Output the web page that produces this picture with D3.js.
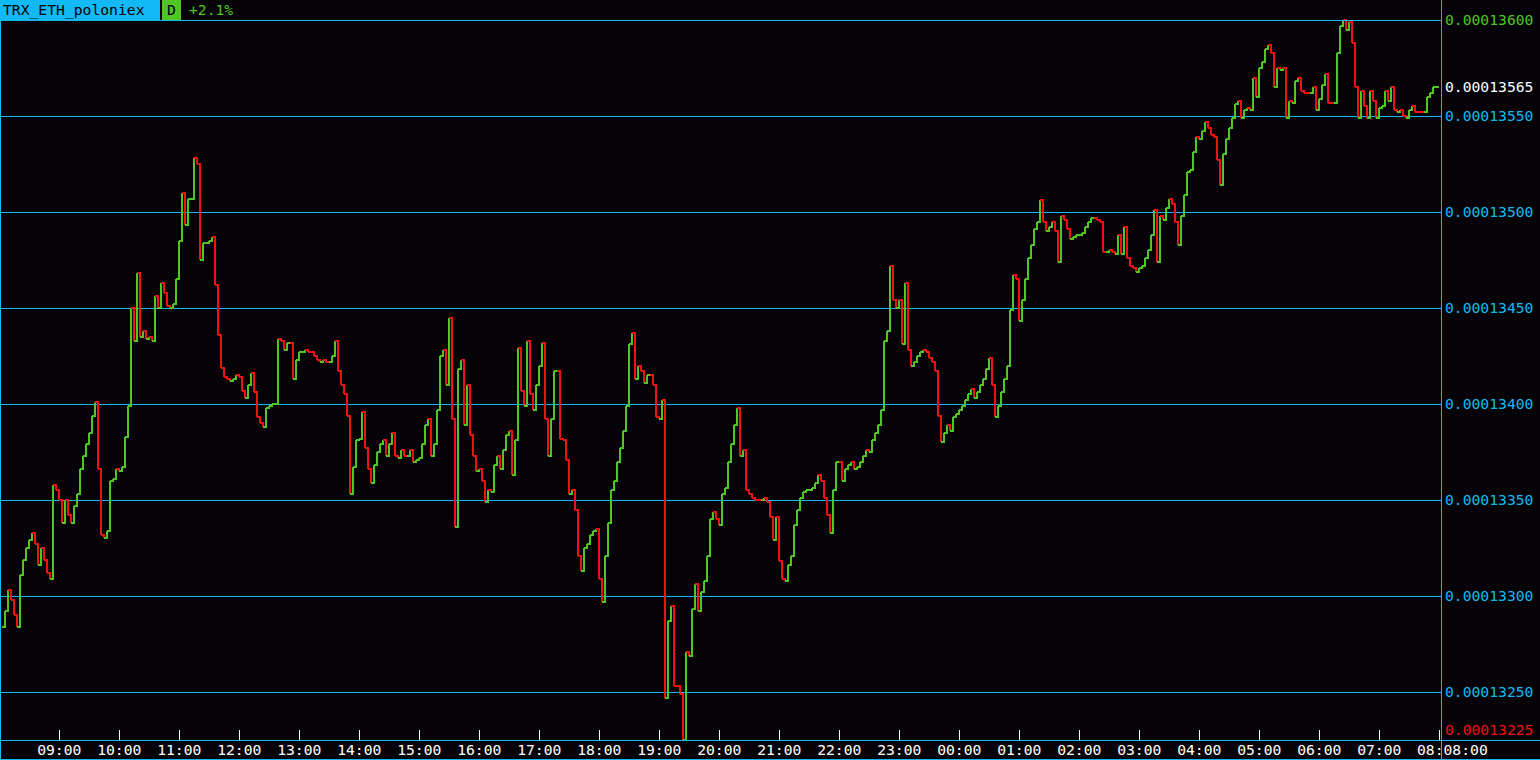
<!DOCTYPE html>
<html>
<head>
<meta charset="utf-8">
<script src="https://cdn.jsdelivr.net/npm/d3@7"></script>
<style>
  html, body { margin: 0; padding: 0; background: #050308; }
  svg { display: block; }
  text { font-family: "DejaVu Sans Mono", "Liberation Mono", monospace; }
</style>
</head>
<body>
<div id="chart"></div>
<script>
// ---- data (prices in units of 1e-8 ETH, one sample every 3 minutes from 08:03) ----
const symbol = "TRX_ETH_poloniex";
const period = "D";
const changeText = "+2.1%";
const lastTimeLabel = "08:08:00";
const PRICE_UNIT = 1e-8;
const sampleMinutes = 3;
const firstSample = new Date(2018, 0, 1, 8, 3);

const pricesBeforeOne = [
13284,13292,13303,13298,13290,13284,13311,13319,13325,13329,
13333,13327,13316,13325,13319,13312,13309,13358,13355,13350,
13338,13350,13342,13338,13347,13353,13366,13373,13379,13385,
13394,13401,13366,13332,13330,13334,13360,13361,13366,13365,
13367,13383,13399,13450,13433,13468,13435,13438,13434,13435,
13433,13456,13450,13463,13458,13451,13450,13452,13465,13485,
13510,13493,13507,13507,13528,13525,13475,13484,13484,13485,
13487,13462,13436,13419,13414,13413,13412,13413,13415,13414,
13407,13403,13410,13416,13406,13393,13390,13388,13398,13399,
13400,13400,13434,13433,13428,13432,13432,13413,13423,13427,
13427,13428,13427,13427,13425,13423,13422,13423,13422,13422,
13425,13433,13417,13410,13405,13394,13353,13367,13381,13382,
13396,13377,13366,13359,13368,13375,13379,13381,13373,13379,
13385,13373,13372,13376,13373,13373,13376,13370,13371,13372,
13379,13389,13392,13373,13379,13397,13425,13428,13410,13445,
13392,13336,13418,13423,13389,13410,13384,13373,13365,13366,
13360,13349,13355,13354,13368,13373,13366,13376,13384,13386,
13363,13381,13429,13407,13399,13433,13405,13397,13410,13420,
13432,13392,13373,13392,13417,13417,13382,13381,13371,13353,
13355,13345,13321,13313,13325,13327,13332,13334,13335,13309,
13297,13321,13338,13355,13360,13370,13377,13386,13399,13431,
13437,13413,13420,13417,13411,13415,13415,13410,13393,13392,
13402,13247,13287,13295,13253,13253,13249,13225,13271,13269,
13293,13306,13292,13302,13308,13321,13340,13344,13340,13337,
13353,13356,13370,13379,13389,13398,13373,13376,13355,13353,
13351,13350,13350,13350,13351,13349,13341,13329,13341,13318,
13309,13308,13316,13321,13337,13345,13351,13354,13355,13355,
13356,13359,13363,13360,13351,13342,13333,13355,13370,13370,
13360,13366,13368,13370,13366,13367,13370,13373,13376,13375,
13381,13385,13389,13397,13433,13438,13472,13454,13450,13454,
13431,13463,13428,13420,13422,13425,13427,13428,13427,13424,
13422,13417,13394,13380,13385,13389,13386,13393,13395,13397,
13399,13402,13405,13408,13403,13406,13410,13413,13418,13424,
13410,13393,13399,13406,13413,13420,13449,13467,13465,13443
];
const pricesAfterOne = [
13454,13465,13476,13483,13491,13495,13506,13495,13490,13492,13495,13490,13474,13498,13496,13491,13486,
13487,13488,13488,13489,13492,13495,13497,13497,13496,13495,13479,13479,13480,13479,13478,13488,13478,13492,13476,13472,13471,13469,13471,13472,
13476,13480,13488,13501,13474,13498,13496,13502,13507,13504,13495,13483,13498,13509,13521,13522,13531,13539,13538,13542,13547,13544,13540,13539,13527,13514,13530,13538,13544,13549,13556,13558,13549,13553,13554,13553,
13570,13560,13575,13578,13585,13587,13583,13565,13575,13574,13575,13549,13558,13557,13568,13570,13563,13562,13562,
13562,13565,13553,13559,13566,13572,13557,13557,13557,13583,13597,13600,13595,13599,13588,13565,13549,13563,13555,13549,13563,13558,13549,13554,13555,13563,13558,13565,13553,13552,13553,
13550,13549,13553,13555,13552,13552,13552,13552,13560,13562,13565,13565,13565
];
const gridPrices = [13250, 13300, 13350, 13400, 13450, 13500, 13550, 13600];
const priceDomain = [13225, 13600];
const timeDomain = [new Date(2018, 0, 1, 8, 0), new Date(2018, 0, 2, 8, 0)];

// ---- styles ----
const C = {
  bg: "#050308", blue: "#12b9f5", green: "#4fc622", red: "#f21010", white: "#ffffff", black: "#000000"
};
const W = 1540, H = 760;
const plotLeft = 1, plotRight = 1441, plotTop = 20, plotBottom = 740;
const FONT = "14.7px";
const lastLabelX = 1417;

const prices = pricesBeforeOne.concat(pricesAfterOne);
const data = prices.map((p, i) => ({ t: d3.timeMinute.offset(firstSample, i * sampleMinutes), p }));

const x = d3.scaleTime().domain(timeDomain).range([-0.7, 1439.3]);
const y = d3.scaleLinear().domain(priceDomain).range([plotBottom, plotTop]);
const fmt = d => (d * PRICE_UNIT).toFixed(8);

const svg = d3.select("#chart").append("svg").attr("width", W).attr("height", H);
svg.append("rect").attr("width", W).attr("height", H).attr("fill", C.bg);

// grid lines
svg.append("g").selectAll("line").data(gridPrices).join("line")
  .attr("x1", 0).attr("x2", plotRight)
  .attr("y1", d => Math.round(y(d)) + 0.5).attr("y2", d => Math.round(y(d)) + 0.5)
  .attr("stroke", C.blue).attr("stroke-width", 1);

// clip
svg.append("clipPath").attr("id", "plotclip").append("rect")
  .attr("x", plotLeft + 1).attr("y", plotTop - 2).attr("width", plotRight - plotLeft - 1).attr("height", plotBottom - plotTop + 2);

// step line, colored by direction
const segs = [];
let prevColor = C.green;
for (let i = 1; i < data.length; i++) {
  const a = data[i - 1], b = data[i];
  let col = b.p > a.p ? C.green : (b.p < a.p ? C.red : prevColor);
  prevColor = col;
  segs.push({ a, b, col });
}
svg.append("g").attr("clip-path", "url(#plotclip)").selectAll("path").data(segs).join("path")
  .attr("d", s => `M${Math.round(x(s.a.t))},${Math.round(y(s.a.p))}H${Math.round(x(s.b.t))}V${Math.round(y(s.b.p))}`)
  .attr("fill", "none").attr("stroke", s => s.col).attr("stroke-width", 2)
  .attr("shape-rendering", "crispEdges");

// frame lines
svg.append("line").attr("x1", 0.5).attr("x2", 0.5).attr("y1", 0).attr("y2", H).attr("stroke", C.blue);
svg.append("line").attr("x1", plotRight + 0.5).attr("x2", plotRight + 0.5).attr("y1", 0).attr("y2", H).attr("stroke", C.blue);
svg.append("line").attr("x1", 0).attr("x2", W).attr("y1", plotBottom + 0.5).attr("y2", plotBottom + 0.5).attr("stroke", C.blue);
svg.append("line").attr("x1", 0).attr("x2", W).attr("y1", H - 0.5).attr("y2", H - 0.5).attr("stroke", C.blue);

// x axis: hour ticks and labels (the label under the last-time marker is covered by it)
const hours = d3.timeHour.range(d3.timeHour.offset(timeDomain[0], 1), d3.timeMinute.offset(timeDomain[1], 1));
const hourFmt = d3.timeFormat("%H:%M");
const xa = svg.append("g");
xa.selectAll("line").data(hours).join("line")
  .attr("x1", d => Math.round(x(d)) + 0.5).attr("x2", d => Math.round(x(d)) + 0.5)
  .attr("y1", plotBottom - 10).attr("y2", plotBottom)
  .attr("stroke", C.white);
xa.selectAll("text").data(hours.filter(d => x(d) + 23 < lastLabelX)).join("text")
  .attr("x", d => x(d)).attr("y", 755).attr("text-anchor", "middle")
  .attr("fill", C.white).style("font-size", FONT).text(d => hourFmt(d));

// last time label
svg.append("text").attr("x", lastLabelX).attr("y", 755).attr("fill", C.white).style("font-size", FONT).text(lastTimeLabel);
svg.append("line").attr("x1", plotRight + 0.5).attr("x2", plotRight + 0.5).attr("y1", plotBottom).attr("y2", H).attr("stroke", C.blue);

// right price labels
const maxP = d3.max(prices), minP = d3.min(prices), lastP = prices[prices.length - 1];
const markers = [
  { p: maxP, col: C.green, yy: y(maxP) },
  { p: lastP, col: C.white, yy: y(lastP) },
  { p: minP, col: C.red, yy: Math.min(y(minP), plotBottom - 10) }
];
const gridLabels = gridPrices.filter(g => markers.every(m => Math.abs(y(g) - m.yy) > 12))
  .map(g => ({ p: g, col: C.blue, yy: y(g) }));
svg.append("g").selectAll("text").data(gridLabels.concat(markers)).join("text")
  .attr("x", 1445).attr("y", d => d.yy + 5)
  .attr("fill", d => d.col).style("font-size", FONT).text(d => fmt(d.p));

// header
svg.append("rect").attr("x", 0).attr("y", 0).attr("width", 160).attr("height", 20).attr("fill", C.blue);
svg.append("text").attr("x", 3).attr("y", 15).attr("fill", C.black).style("font-size", FONT).text(symbol);
svg.append("rect").attr("x", 162).attr("y", 0).attr("width", 19).attr("height", 20).attr("fill", C.green);
svg.append("text").attr("x", 167).attr("y", 15).attr("fill", C.black).style("font-size", FONT).text(period);
svg.append("text").attr("x", 189).attr("y", 15).attr("fill", C.green).style("font-size", FONT).text(changeText);
svg.append("line").attr("x1", 0).attr("x2", plotRight).attr("y1", 20.5).attr("y2", 20.5).attr("stroke", C.blue);
</script>
</body>
</html>
